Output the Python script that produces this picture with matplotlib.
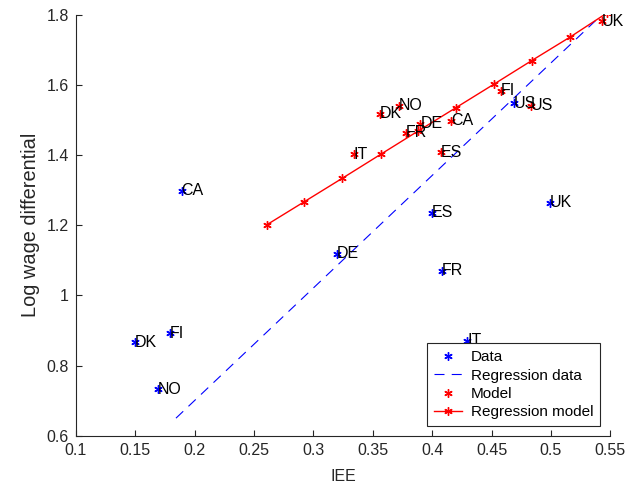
import numpy as np
import matplotlib
matplotlib.use("Agg")
import matplotlib.pyplot as plt
from matplotlib.ticker import FormatStrFormatter

plt.rcParams['font.family'] = ['Liberation Sans', 'DejaVu Sans']

countries = ['CA', 'DK', 'FI', 'NO', 'DE', 'ES', 'UK', 'US', 'FR', 'IT']

# observed data
iee_data = [0.189, 0.1497, 0.179, 0.169, 0.320, 0.3995, 0.499, 0.469, 0.408, 0.4295]
wage_data = [1.298, 0.866, 0.892, 0.732, 1.118, 1.236, 1.264, 1.547, 1.070, 0.870]

# model
iee_model = [0.416, 0.356, 0.4576, 0.372, 0.390, 0.407, 0.5426, 0.483, 0.378, 0.334]
wage_model = [1.498, 1.517, 1.583, 1.540, 1.489, 1.408, 1.782, 1.540, 1.464, 1.402]

# regression lines
reg_data_x = [0.1842, 0.541]
reg_data_y = [0.650, 1.794]
reg_model_x = [0.2606, 0.2923, 0.3244, 0.3566, 0.3884, 0.420, 0.452, 0.4837, 0.516, 0.5468]
reg_model_y = [1.201, 1.267, 1.334, 1.402, 1.469, 1.535, 1.602, 1.669, 1.736, 1.804]

x_ticks = [0.1, 0.15, 0.2, 0.25, 0.3, 0.35, 0.4, 0.45, 0.5, 0.55]
y_ticks = [0.6, 0.8, 1.0, 1.2, 1.4, 1.6, 1.8]

ast = (6, 2, 0)
fs = 11.5
gray = '#262626'

fig = plt.figure(figsize=(6.3, 4.88), dpi=100)
ax = fig.add_axes([76 / 630, 52.3 / 488, 534.3 / 630, 421 / 488])

ax.plot(iee_data, wage_data, linestyle='none', marker=ast, color='blue',
        markersize=6, markeredgewidth=1, label='Data')
ax.plot(reg_data_x, reg_data_y, color='blue', linewidth=0.8, dashes=(9, 6.5),
        label='Regression data')
ax.plot(iee_model, wage_model, linestyle='none', marker=ast, color='red',
        markersize=6, markeredgewidth=1, label='Model')
ax.plot(reg_model_x, reg_model_y, color='red', linewidth=1, marker=ast,
        markersize=6, markeredgewidth=1, label='Regression model')

for c, x, y in zip(countries, iee_data, wage_data):
    ax.text(x, y, c, fontsize=fs, ha='left', va='center')
for c, x, y in zip(countries, iee_model, wage_model):
    ax.text(x, y, c, fontsize=fs, ha='left', va='center')

ax.set_xlim(0.1, 0.55)
ax.set_ylim(0.6, 1.8)
ax.set_xticks(x_ticks)
ax.set_yticks(y_ticks)
ax.xaxis.set_major_formatter(FormatStrFormatter('%g'))
ax.yaxis.set_major_formatter(FormatStrFormatter('%g'))
ax.tick_params(direction='in', length=4, width=0.8, colors=gray, labelsize=fs, pad=5)
ax.spines['top'].set_visible(False)
ax.spines['right'].set_visible(False)
for s in ['left', 'bottom']:
    ax.spines[s].set_color(gray)
    ax.spines[s].set_linewidth(0.8)

ax.set_xlabel('IEE', fontsize=11.5, color=gray, labelpad=8)
ax.set_ylabel('Log wage differential', fontsize=14.4, color=gray, labelpad=4.5)

leg = ax.legend(loc='lower right', bbox_to_anchor=(0.981, 0.023), borderaxespad=0,
                fontsize=11, fancybox=False, edgecolor=gray, framealpha=1,
                labelspacing=0.28, handlelength=1.83, handletextpad=0.6,
                borderpad=0.45)
leg.get_frame().set_linewidth(0.8)

fig.savefig('out.png', dpi=100)
